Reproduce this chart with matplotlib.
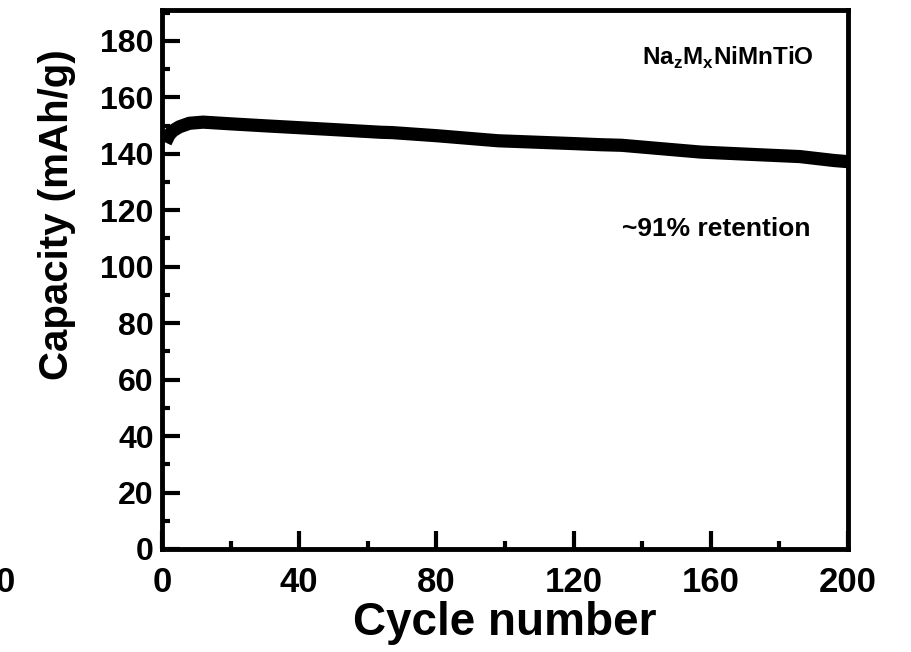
import matplotlib
matplotlib.use('Agg')
import matplotlib.pyplot as plt
from matplotlib.ticker import MultipleLocator

plt.rcParams['font.family'] = ['Liberation Sans', 'DejaVu Sans']
plt.rcParams['font.weight'] = 'bold'
plt.rcParams['mathtext.fontset'] = 'custom'
plt.rcParams['mathtext.rm'] = 'Liberation Sans:bold'
plt.rcParams['mathtext.bf'] = 'Liberation Sans:bold'

# cycling data (capacity read at selected cycles)
cycles = [1, 2, 3, 5, 8, 12, 20, 30, 48, 64, 67, 80, 98, 120, 128, 134, 157, 175, 186, 196, 200]
capacity = [144.0, 146.5, 148.0, 149.5, 150.8, 151.2, 150.6, 149.9, 148.7, 147.6, 147.5,
            146.4, 144.6, 143.6, 143.2, 143.0, 140.6, 139.6, 139.0, 137.6, 137.2]

x_ticks = [0, 40, 80, 120, 160, 200]
y_ticks = [0, 20, 40, 60, 80, 100, 120, 140, 160, 180]

fig = plt.figure(figsize=(9.11, 6.52), dpi=100)
ax = fig.add_axes([0.1778, 0.158, 0.753, 0.827])

ax.plot(cycles, capacity, color='black', lw=9.5, solid_capstyle='butt')

ax.set_xlim(0, 200)
ax.set_ylim(0, 191)
ax.set_xticks(x_ticks)
ax.set_yticks(y_ticks)
ax.xaxis.set_minor_locator(MultipleLocator(20))
ax.yaxis.set_minor_locator(MultipleLocator(10))

ax.tick_params(which='major', direction='in', length=13, width=3)
ax.tick_params(which='minor', direction='in', length=6, width=3)
ax.tick_params(axis='x', which='major', labelsize=25, pad=12)
ax.tick_params(axis='y', which='major', labelsize=23, pad=6)
ax.tick_params(top=False, right=False, which='both')
for s in ax.spines.values():
    s.set_linewidth(3.5)

ax.set_xlabel('Cycle number', fontsize=33, fontweight='bold', labelpad=2)
ax.set_ylabel('Capacity (mAh/g)', fontsize=29, fontweight='bold')
ax.yaxis.set_label_coords(-0.125, 0.62)

ax.text(165, 174, r'Na$_{\mathrm{z}}$M$_{\mathrm{x}}$NiMnTiO', fontsize=17.5,
        fontweight='bold', ha='center', va='center')
ax.text(161.5, 113.5, '~91% retention', fontsize=19, fontweight='bold',
        ha='center', va='center')

# tick label left over from the neighbouring panel
fig.text(15 / 911, 1 - 583 / 652, '0', fontsize=25, fontweight='bold',
         ha='right', va='center')

fig.savefig('out.png', dpi=100)
